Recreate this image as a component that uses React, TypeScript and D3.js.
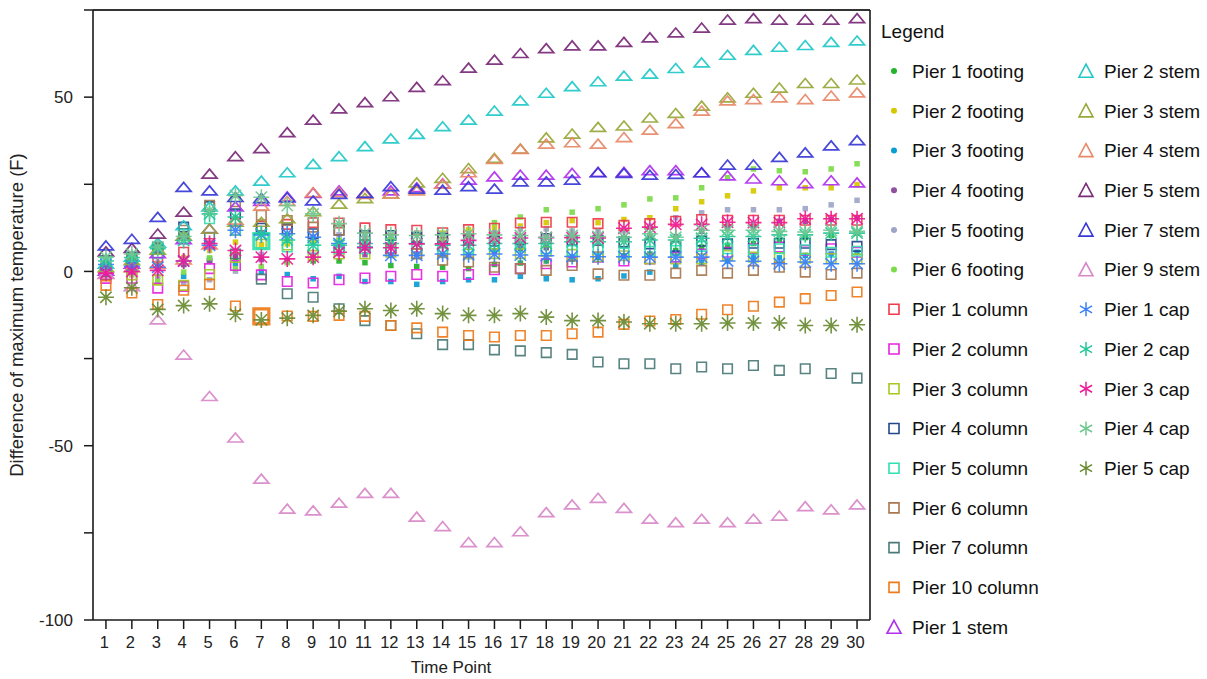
import React from "react";
import * as d3 from "d3";

// ---------- DATA ----------
const timePoints = [1, 2, 3, 4, 5, 6, 7, 8, 9, 10, 11, 12, 13, 14, 15, 16, 17, 18, 19, 20, 21, 22, 23, 24, 25, 26, 27, 28, 29, 30];
const yTickValues = [-100, -75, -50, -25, 0, 25, 50, 75];
const yTickLabels = [-100, -50, 0, 50];

const pier1Footing = [0, 1, 2, 2, 3, 4, 4, 3, 3, 3, 2.5, 1.7, 1.4, 1.2, 0.8, 2.0, 2.4, 3, 3.5, 4, 4.5, 5, 6, 7, 7.5, 8, 8.9, 9.7, 10.3, 11];
const pier2Footing = [0, 1, 2, 4, 6, 8.4, 7.7, 7.9, 8.9, 8.9, 9.5, 10, 11, 11, 12, 12.5, 13, 14.0, 14.6, 14.0, 14.9, 15.4, 18.0, 20.0, 21.7, 23.1, 24.0, 24.0, 24.0, 24.9];
const pier3Footing = [0.5, 1, 1.5, -1.4, 3.6, 2.2, -0.2, -0.9, -2.1, -1.4, -2.9, -2.9, -3.7, -2.9, -2.4, -2.4, -1.4, -2.1, -2.4, -2.1, -1.3, -0.2, 1.5, 2.5, 3.0, 3.9, 3.9, 4.6, 5.0, 5.5];
const pier4Footing = [1, 0, 1, 2, 3, 4.6, 3.4, 3.2, 4.6, 5.1, 4.8, 4.6, 5.0, 4.6, 4.6, 5.8, 6.5, 6.8, 8.7, 9.7, 9.7, 10.0, 10.0, 11.5, 12.5, 12.7, 14.4, 14.4, 14.9, 15.4];
const pier5Footing = [0, 0.5, -1.4, -3.3, -2.4, 0.1, 4.9, 9.7, 10, 10.5, 10, 10, 11, 10.5, 10.8, 11.1, 12.2, 12.2, 11.6, 11.6, 11.6, 13.0, 15.4, 16.8, 17.7, 17.7, 17.7, 18.0, 19.1, 20.4];
const pier6Footing = [2.2, -1, -2.8, -0.2, 3.9, 0.8, 1.4, 2.5, 4.1, 8.9, 7.7, 9.1, 7.9, 9.1, 9.8, 14.0, 15.6, 17.7, 17.0, 18.0, 19.1, 20.8, 21.1, 24.0, 26.9, 29.4, 28.9, 28.6, 29.4, 30.9];

const pier1Column = [-1, 1, 4.1, 5.5, 8, 11.8, 13, 13.5, 14.0, 13.9, 12.5, 12.0, 11.8, 11.1, 12.0, 12.4, 13.9, 14.1, 14.1, 13.7, 13.2, 13.7, 14.4, 14.9, 14.7, 14.7, 14.7, 14.7, 14.7, 14.7];
const pier2Column = [-2, -2, -4.8, -4.3, 0.8, 1.7, -1, -2.9, -3.3, -2.4, -1.9, -1.4, -0.9, -1.4, -0.9, 0.5, 0.8, 2.2, 2.7, 4.1, 3.0, 3.6, 4.1, 5.0, 5.5, 6.5, 7.0, 6.0, 6.5, 5.5];
const pier3Column = [0, -1, -2.5, -4.0, -0.9, 4.0, 7.8, 7.6, 4.6, 5, 5, 5.5, 5, 5.5, 5, 5.1, 5.1, 5.8, 4.9, 4.2, 4.5, 3.6, 3.6, 3.6, 4.6, 4.1, 4.0, 3.8, 3.7, 3.6];
const pier4Column = [-0.7, 2.2, 6.5, 12.7, 18.6, 16.5, 12.4, 12.2, 10.8, 11.8, 10.3, 10.3, 9.7, 9.5, 8.9, 8.7, 9.0, 9.4, 8.9, 8.9, 8.4, 7.9, 7.2, 8.7, 7.9, 8.1, 8.1, 8.1, 7.7, 7.2];
const pier5Column = [3, 4, 5.1, 9.4, 15.1, 11.8, 8.7, 7, 6.5, 6.5, 6.5, 6.8, 6.5, 6.5, 6.5, 7.2, 7.0, 6.5, 6.0, 6.4, 5.3, 5.8, 6.0, 7.2, 6.5, 6.2, 6.5, 6.2, 5.5, 5.8];
const pier6Column = [1, 4, 7.0, 11.8, 19, 20, 16.1, 14.6, 12.7, 11.8, 7.5, 6.5, 5.1, 3.2, 2.7, 1.2, 0.8, 0.3, 1.7, -0.7, -1.1, -1.1, -0.5, 0.3, -0.5, 0.3, 1.2, -0.2, -0.9, -0.5];
const pier7Column = [0, 3, 6.6, 10.9, 9.8, 5, -2.2, -6.4, -7.4, -10.7, -14.1, -15.5, -17.9, -21.0, -21.0, -22.5, -22.8, -23.3, -23.8, -26.0, -26.5, -26.5, -27.9, -27.4, -27.9, -27.0, -28.4, -27.9, -29.3, -30.6];
const pier10Column = [-4.0, -6.2, -9.5, -5.4, -3.7, -9.9, -12.9, -12.8, -12.9, -12.6, -12.9, -15.5, -16.2, -17.4, -18.4, -18.8, -18.4, -18.4, -17.9, -17.4, -15.2, -14.2, -13.8, -12.3, -11.0, -10.0, -8.8, -7.8, -6.9, -5.9];

const pier1Stem = [0, 2, 5, 9, 12, 18.4, 20, 21.3, 22.3, 23.0, 22.3, 23.0, 23.9, 25, 26.1, 27.0, 27.5, 27.5, 28.0, 28.3, 28.3, 28.8, 28.8, 28.2, 27.3, 26.4, 25.9, 25.1, 25.9, 25.3];
const pier2Stem = [2, 4, 8, 13, 18.4, 23.0, 25.8, 28.2, 30.6, 32.8, 35.7, 37.9, 39.2, 41.4, 43.3, 45.9, 48.8, 51.0, 52.9, 54.3, 55.9, 56.5, 58.1, 59.7, 61.9, 63.3, 64.2, 64.7, 65.6, 66.0];
const pier3Stem = [1, 3, 6, 10, 12, 14, 14, 15, 17, 19.2, 20.8, 22.1, 25.3, 26.6, 29.4, 32.3, 35.0, 38.2, 39.3, 41.2, 41.6, 43.9, 45.2, 47.3, 49.7, 51.0, 52.5, 53.8, 53.8, 54.8];
const pier4Stem = [-1, 1, 2, 3.2, 7.5, 14.6, 18.6, 20, 22.5, 22.5, 22, 22.1, 23.0, 24.9, 28.2, 32.0, 34.9, 36.4, 36.8, 36.4, 38.3, 40.4, 42.3, 45.9, 48.8, 49.2, 49.7, 49.2, 50.2, 51.1];
const pier5Stem = [5.5, 6.5, 10.6, 16.9, 27.8, 32.8, 35.1, 39.7, 43.3, 46.5, 48.3, 50.0, 52.7, 54.6, 58.2, 60.5, 62.4, 63.8, 64.6, 64.6, 65.6, 66.9, 68.3, 69.7, 72.0, 72.4, 72.0, 72.0, 72.0, 72.4];
const pier7Stem = [7.2, 9.1, 15.4, 24.0, 23.0, 21.1, 20.8, 21.0, 20.1, 22.0, 22.3, 24.2, 23.5, 23.2, 24.2, 23.5, 25.6, 25.6, 26.1, 28.2, 28.0, 27.5, 27.7, 28.2, 30.4, 30.4, 32.6, 33.9, 35.9, 37.4];
const pier9Stem = [-0.9, -4.5, -14.0, -24.1, -36.0, -47.9, -59.7, -68.3, -68.8, -66.6, -63.8, -63.8, -70.6, -73.3, -77.9, -77.9, -74.8, -69.3, -67.1, -65.2, -68.1, -71.2, -72.2, -71.2, -72.2, -71.2, -70.3, -67.6, -68.5, -67.1];

const pier1Cap = [2, 1.5, 1.2, 3, 7.5, 11.8, 10.5, 10.8, 9.8, 8, 7, 4.6, 4.6, 5, 4.8, 5, 4.7, 4.5, 4.3, 4.2, 4.2, 4.1, 4.1, 4.1, 3.0, 2.9, 2.2, 2.7, 2.2, 2.2];
const pier2Cap = [3, 4, 6.5, 8.9, 16.5, 15.6, 10.8, 9.0, 7.5, 7.5, 8, 8, 8, 7.5, 7.5, 8, 8, 8, 8.5, 8.5, 8.5, 9, 9, 9.5, 10, 10, 10.5, 10.5, 11, 11];
const pier3Cap = [-0.5, 0, 0.3, 3, 8, 6.0, 4.1, 3.6, 4.1, 5.5, 6.8, 6.8, 7.9, 7.9, 8.9, 9.6, 9.6, 9.7, 9.7, 9.6, 12.4, 12.7, 13.5, 13.5, 14.1, 14.0, 14.0, 15.1, 15.1, 15.1];
const pier4Cap = [4.1, 5, 7, 10, 17.5, 21.8, 21.3, 18.9, 16.5, 13.7, 11, 10.5, 10.3, 10.5, 10.8, 10.5, 10.3, 9.8, 10.3, 10.0, 9.8, 10.8, 9.8, 11.8, 11.8, 11.8, 11.5, 11.3, 11.8, 11.5];
const pier5Cap = [-7.4, -4.7, -10.9, -9.8, -9.3, -12.3, -13.9, -13.4, -12.6, -11.4, -10.7, -11.2, -10.7, -12.1, -12.6, -12.6, -12.1, -13.1, -14.1, -14.1, -14.5, -15.0, -15.0, -15.0, -14.8, -14.8, -14.8, -15.5, -15.5, -15.3];

const highlightedTimePoint = 7;
const highlightedSeries = ["Pier 5 column", "Pier 10 column"];

type Kind = "footing" | "column" | "stem" | "cap";
const series: { name: string; kind: Kind; color: string; values: number[] }[] = [
  { name: "Pier 1 footing", kind: "footing", color: "#22b42a", values: pier1Footing },
  { name: "Pier 2 footing", kind: "footing", color: "#d6c800", values: pier2Footing },
  { name: "Pier 3 footing", kind: "footing", color: "#0a9fd2", values: pier3Footing },
  { name: "Pier 4 footing", kind: "footing", color: "#8e4f9e", values: pier4Footing },
  { name: "Pier 5 footing", kind: "footing", color: "#9ea6c8", values: pier5Footing },
  { name: "Pier 6 footing", kind: "footing", color: "#7ddb4a", values: pier6Footing },
  { name: "Pier 1 column", kind: "column", color: "#ee3a4a", values: pier1Column },
  { name: "Pier 2 column", kind: "column", color: "#e622e0", values: pier2Column },
  { name: "Pier 3 column", kind: "column", color: "#a6c820", values: pier3Column },
  { name: "Pier 4 column", kind: "column", color: "#23478a", values: pier4Column },
  { name: "Pier 5 column", kind: "column", color: "#30e0b0", values: pier5Column },
  { name: "Pier 6 column", kind: "column", color: "#a87850", values: pier6Column },
  { name: "Pier 7 column", kind: "column", color: "#4a7a78", values: pier7Column },
  { name: "Pier 10 column", kind: "column", color: "#ee7a18", values: pier10Column },
  { name: "Pier 1 stem", kind: "stem", color: "#b030f0", values: pier1Stem },
  { name: "Pier 2 stem", kind: "stem", color: "#20c8c8", values: pier2Stem },
  { name: "Pier 3 stem", kind: "stem", color: "#98a838", values: pier3Stem },
  { name: "Pier 4 stem", kind: "stem", color: "#e88868", values: pier4Stem },
  { name: "Pier 5 stem", kind: "stem", color: "#7a2a78", values: pier5Stem },
  { name: "Pier 7 stem", kind: "stem", color: "#3838d8", values: pier7Stem },
  { name: "Pier 9 stem", kind: "stem", color: "#d888c8", values: pier9Stem },
  { name: "Pier 1 cap", kind: "cap", color: "#3a80f8", values: pier1Cap },
  { name: "Pier 2 cap", kind: "cap", color: "#20c898", values: pier2Cap },
  { name: "Pier 3 cap", kind: "cap", color: "#ee1a98", values: pier3Cap },
  { name: "Pier 4 cap", kind: "cap", color: "#70c890", values: pier4Cap },
  { name: "Pier 5 cap", kind: "cap", color: "#688a30", values: pier5Cap },
];

// ---------- LAYOUT ----------
const W = 1207;
const H = 679;
const left = 93, right = 870, top = 10, bottom = 620;
const FONT = "'Liberation Sans', Arial, Helvetica, sans-serif";

const x = d3.scaleLinear().domain([0.5, 30.5]).range([left, right]);
const y = d3.scaleLinear().domain([-100, 75]).range([bottom, top]);

function squarePath(cx: number, cy: number, s: number) {
  return `M${cx - s / 2},${cy - s / 2}h${s}v${s}h${-s}Z`;
}
function trianglePath(cx: number, cy: number, w: number, h: number) {
  return `M${cx},${cy - h * 0.6}L${cx + w / 2},${cy + h * 0.4}L${cx - w / 2},${cy + h * 0.4}Z`;
}
function asteriskPath(cx: number, cy: number, r: number, arms: number) {
  let p = "";
  for (let i = 0; i < arms; i++) {
    const a = (Math.PI * i) / arms + Math.PI / 2;
    const dx = Math.cos(a) * r, dy = Math.sin(a) * r;
    p += `M${cx - dx},${cy - dy}L${cx + dx},${cy + dy}`;
  }
  return p;
}

function Marker({ kind, color, cx, cy, big, legend }: { kind: Kind; color: string; cx: number; cy: number; big?: boolean; legend?: boolean }) {
  if (kind === "footing") {
    if (legend) return <circle cx={cx} cy={cy} r={3} fill={color} />;
    return <path d={squarePath(cx, cy, 5.5)} fill={color} />;
  }
  if (kind === "column") {
    const s = big ? 15 : legend ? 10 : 9.5;
    return <path d={squarePath(cx, cy, s)} fill="none" stroke={color} strokeWidth={big ? 3.2 : 1.6} />;
  }
  if (kind === "stem") {
    return legend ? (
      <path d={trianglePath(cx, cy + 1, 14, 13)} fill="none" stroke={color} strokeWidth={1.6} strokeLinejoin="miter" />
    ) : (
      <path d={trianglePath(cx, cy, 15, 9)} fill="none" stroke={color} strokeWidth={1.7} strokeLinejoin="miter" />
    );
  }
  return legend ? (
    <path d={asteriskPath(cx, cy, 7, 3)} fill="none" stroke={color} strokeWidth={1.5} />
  ) : (
    <path d={asteriskPath(cx, cy, 8, 4)} fill="none" stroke={color} strokeWidth={1.6} />
  );
}

export default function App() {
  const legendRowY = (i: number) => 71 + i * 39.72;
  const col1 = series.slice(0, 15);
  const col2 = series.slice(15);
  return (
    <svg width={W} height={H} style={{ position: "absolute", left: 0, top: 0, display: "block", background: "#fff" }} fontFamily={FONT}>
      {/* markers */}
      <g>
        {series.map((s) => (
          <g key={s.name} opacity={0.92}>
            {s.values.map((v, i) => (
              <Marker
                key={i}
                kind={s.kind}
                color={s.color}
                cx={x(timePoints[i])}
                cy={y(v)}
                big={timePoints[i] === highlightedTimePoint && highlightedSeries.includes(s.name)}
              />
            ))}
          </g>
        ))}
      </g>

      {/* frame */}
      <g stroke="#1a1a1a" fill="none">
        <line x1={left} y1={top} x2={right} y2={top} strokeWidth={2} stroke="#333" />
        <line x1={right} y1={top} x2={right} y2={bottom} strokeWidth={1.6} />
        <line x1={left} y1={top} x2={left} y2={bottom} strokeWidth={1.6} />
        <line x1={left} y1={bottom} x2={right} y2={bottom} strokeWidth={1.6} />
      </g>

      {/* y ticks */}
      <g>
        {yTickValues.map((t) => (
          <line key={t} x1={left - 9} x2={left} y1={y(t)} y2={y(t)} stroke="#1a1a1a" strokeWidth={1.5} />
        ))}
        {yTickLabels.map((t) => (
          <text key={t} x={73} y={y(t)} dy="0.36em" textAnchor="end" fontSize={17} fill="#222">
            {t}
          </text>
        ))}
      </g>

      {/* x ticks */}
      <g>
        {timePoints.map((t) => (
          <g key={t}>
            <line x1={x(t)} x2={x(t)} y1={bottom} y2={bottom + 9} stroke="#1a1a1a" strokeWidth={1.5} />
            <text x={x(t) - 1.5} y={648} textAnchor="middle" fontSize={16.5} fill="#222">
              {t}
            </text>
          </g>
        ))}
      </g>

      {/* axis titles */}
      <text x={451} y={673} textAnchor="middle" fontSize={17} fill="#222">
        Time Point
      </text>
      <text transform="translate(23,315) rotate(-90)" textAnchor="middle" fontSize={18.5} fill="#222">
        Difference of maximum temperature (F)
      </text>

      {/* legend */}
      <text x={881} y={38} fontSize={19} fill="#111">
        Legend
      </text>
      {col1.map((s, i) => (
        <g key={s.name}>
          <Marker kind={s.kind} color={s.color} cx={894} cy={legendRowY(i)} legend />
          <text x={912} y={legendRowY(i)} dy="0.36em" fontSize={19} fill="#111">
            {s.name}
          </text>
        </g>
      ))}
      {col2.map((s, i) => (
        <g key={s.name}>
          <Marker kind={s.kind} color={s.color} cx={1086} cy={legendRowY(i)} legend />
          <text x={1104} y={legendRowY(i)} dy="0.36em" fontSize={19} fill="#111">
            {s.name}
          </text>
        </g>
      ))}
    </svg>
  );
}
